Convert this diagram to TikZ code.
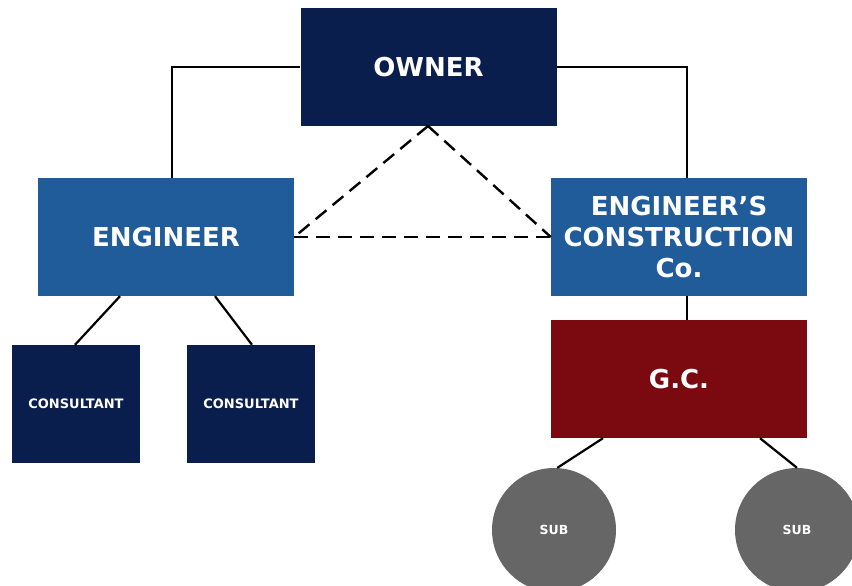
\documentclass[tikz,border=0pt]{standalone}
\usepackage{fontspec}
\setmainfont{DejaVu Sans}
\definecolor{navy}{HTML}{0A1E4E}
\definecolor{engblue}{HTML}{1F5C99}
\definecolor{gcred}{HTML}{7A0A10}
\definecolor{subgrey}{HTML}{666666}
\begin{document}
\begin{tikzpicture}[x=1pt,y=-1pt,
  box/.style={draw=none,minimum width=256pt,minimum height=118pt,inner sep=0pt,text=white,font=\bfseries\fontsize{26}{31}\selectfont,align=center},
  cbox/.style={draw=none,fill=navy,minimum width=128pt,minimum height=118pt,inner sep=0pt,text=white,font=\bfseries\fontsize{13}{15}\selectfont},
  subc/.style={circle,fill=subgrey,minimum size=124pt,inner sep=0pt,text=white,font=\bfseries\fontsize{12.5}{15}\selectfont},
  conn/.style={line width=2.2pt,black},
  dconn/.style={line width=2.4pt,black,dash pattern=on 14pt off 8pt}]
\useasboundingbox (0,0) rectangle (852,586);
\node[box,fill=navy] (owner) at (428.5,67) {OWNER};
\node[box,fill=engblue] (eng) at (166,237) {ENGINEER};
\node[box,fill=engblue] (ecc) at (679,237) {ENGINEER’S\\CONSTRUCTION\\Co.};
\node[cbox] (c1) at (76,404) {CONSULTANT};
\node[cbox] (c2) at (251,404) {CONSULTANT};
\node[box,fill=gcred] (gc) at (679,379) {G.C.};
\node[subc] (s1) at (554,530) {SUB};
\node[subc] (s2) at (797,530) {SUB};
\coordinate (otop) at (428,126);
\draw[conn] (owner.west) -| (eng.north -| 172,0);
\draw[conn] (owner.east) -| (ecc.north -| 687,0);
\draw[dconn] (otop) -- (eng.east);
\draw[dconn] (otop) -- (ecc.west);
\draw[dconn] (eng.east) -- (ecc.west);
\draw[conn] (eng.south -| 120,0) -- (c1.north -| 75,0);
\draw[conn] (eng.south -| 215,0) -- (c2.north -| 252,0);
\draw[conn] (ecc.south -| 687,0) -- (gc.north -| 687,0);
\draw[conn] (gc.south -| 603,0) -- (s1.87);
\draw[conn] (gc.south -| 760,0) -- (s2.north);
\end{tikzpicture}
\end{document}
